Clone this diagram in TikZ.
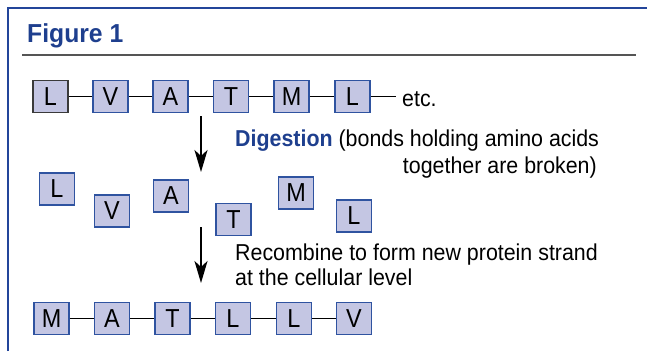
\documentclass[tikz,border=0pt]{standalone}
\usepackage{fontspec}
\setmainfont[FakeStretch=0.93]{Liberation Sans}
\newfontfamily\titlefont[FakeStretch=0.95]{Liberation Sans}
\newfontfamily\boxfont[FakeStretch=0.9]{Liberation Sans}
\usetikzlibrary{arrows.meta}
\definecolor{frameblue}{HTML}{23459A}
\definecolor{titleblue}{HTML}{1E3F8E}
\definecolor{boxfill}{HTML}{C4C6E3}
\definecolor{boxedge}{HTML}{2F53A0}
\definecolor{rulegray}{HTML}{555555}
\definecolor{darkedge}{HTML}{3A3A3A}
\begin{document}
\begin{tikzpicture}[x=1pt,y=-1pt,
  aa/.style={draw=boxedge, fill=boxfill, line width=1.3pt, minimum width=35pt,
    minimum height=32pt, inner sep=0pt, font=\boxfont\fontsize{26}{26}\selectfont},
  bond/.style={line width=1.2pt, black},
  bigarrow/.style={line width=2.4pt, -{Stealth[length=22pt,width=13pt,inset=6pt]}},
  txt/.style={inner sep=0pt, font=\fontsize{23}{26}\selectfont}]
\useasboundingbox (0,0) rectangle (647,351);
% frame
\draw[frameblue, line width=2.8pt, line join=miter] (8,351) -- (8,8) -- (647,8);
\draw[rulegray, line width=2pt] (22,55) -- (636,55);
\node[anchor=base west, inner sep=0pt, text=titleblue,
  font=\titlefont\bfseries\fontsize{26}{26}\selectfont] (title) at (27,42) {Figure 1};
% row 1
\node[aa, draw=darkedge] (a1) at (50.5,96.3) {L};
\node[aa] (a2) at (110.4,96.3) {V};
\node[aa] (a3) at (170.5,96.3) {A};
\node[aa] (a4) at (231,96.3) {T};
\node[aa] (a5) at (291.5,96.3) {M};
\node[aa] (a6) at (352.5,96.3) {L};
\coordinate (aend) at (396,96.3);
\draw[bond] (a1) -- (a2); \draw[bond] (a2) -- (a3); \draw[bond] (a3) -- (a4);
\draw[bond] (a4) -- (a5); \draw[bond] (a5) -- (a6); \draw[bond] (a6) -- (aend);
\node[txt, anchor=base west] (etc) at (402,106.7) {etc.};
% arrow 1
\coordinate (ar1s) at (201,116);
\coordinate (ar1e) at (201,172);
\draw[bigarrow] (ar1s) -- (ar1e);
\node[txt, anchor=base west] (dig1) at (235,146.7) {\textcolor{titleblue}{\bfseries Digestion} (bonds holding amino acids};
\node[txt, anchor=base east] (dig2) at (597,173) {together are broken)};
% row 2
\node[aa] (b1) at (57,189) {L};
\node[aa] (b2) at (112,211) {V};
\node[aa] (b3) at (171,196) {A};
\node[aa] (b4) at (233.5,219.5) {T};
\node[aa] (b5) at (296,193) {M};
\node[aa] (b6) at (354,216) {L};
% arrow 2
\coordinate (ar2s) at (201,227);
\coordinate (ar2e) at (201,283);
\draw[bigarrow] (ar2s) -- (ar2e);
\node[txt, anchor=base west] (rec1) at (235,260.7) {Recombine to form new protein strand};
\node[txt, anchor=base west] (rec2) at (235,285) {at the cellular level};
% row 3
\node[aa] (c1) at (51.5,318.3) {M};
\node[aa] (c2) at (112,318.3) {A};
\node[aa] (c3) at (172.5,318.3) {T};
\node[aa] (c4) at (233,318.3) {L};
\node[aa] (c5) at (294,318.3) {L};
\node[aa] (c6) at (354,318.3) {V};
\draw[bond] (c1) -- (c2); \draw[bond] (c2) -- (c3); \draw[bond] (c3) -- (c4);
\draw[bond] (c4) -- (c5); \draw[bond] (c5) -- (c6);
\end{tikzpicture}
\end{document}
